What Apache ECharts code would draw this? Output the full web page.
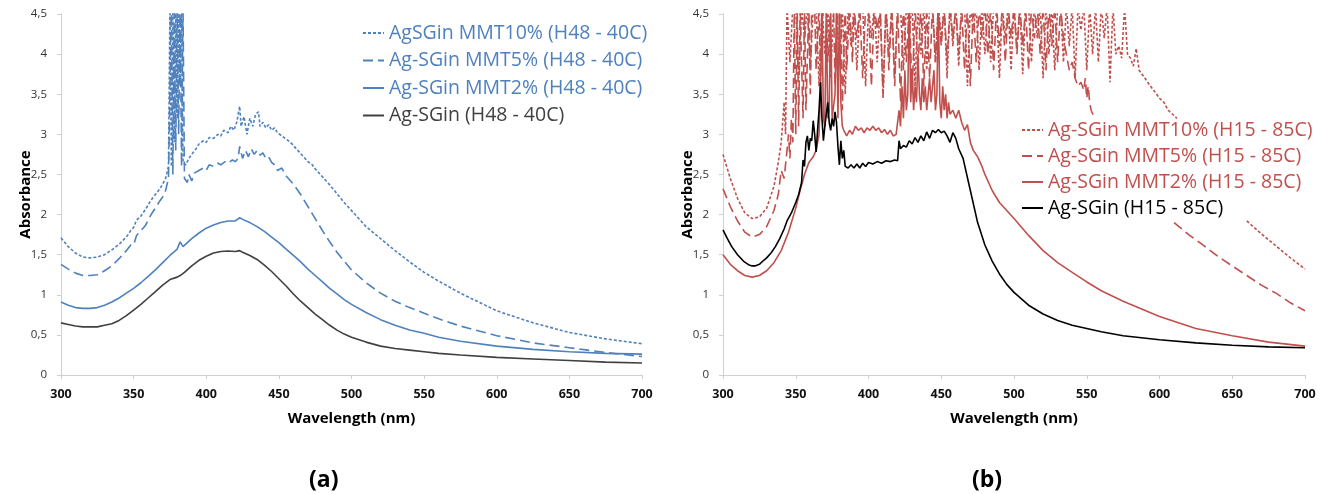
<!DOCTYPE html>
<html>
<head>
<meta charset="utf-8">
<script src="https://cdn.jsdelivr.net/npm/echarts@6/dist/echarts.min.js"></script>
<style>
html,body{margin:0;padding:0;background:#fff;}
#chart{width:1329px;height:494px;}
</style>
</head>
<body>
<div id="chart"></div>
<script>
// ---------- DATA ([wavelength nm, absorbance]; null = no data, values > 4.5 are off-scale) ----------
const xTicks = [300, 350, 400, 450, 500, 550, 600, 650, 700];
const yTicks = [0, 0.5, 1, 1.5, 2, 2.5, 3, 3.5, 4, 4.5];

const namesA = ['AgSGin MMT10% (H48 - 40C)', 'Ag-SGin MMT5% (H48 - 40C)', 'Ag-SGin MMT2% (H48 - 40C)', 'Ag-SGin (H48 - 40C)'];
const namesB = ['Ag-SGin MMT10% (H15 - 85C)', 'Ag-SGin MMT5% (H15 - 85C)', 'Ag-SGin MMT2% (H15 - 85C)', 'Ag-SGin (H15 - 85C)'];

// Panel (a)
const a_mmt10 = [[300,1.71],[305,1.60],[310,1.52],[315,1.47],[320,1.46],[325,1.47],[330,1.50],[335,1.56],[340,1.63],[345,1.72],[348,1.80],[350,1.84],[352,1.93],[355,1.98],[358,2.06],[360,2.12],[362,2.18],[365,2.25],[368,2.32],[370,2.38],[372,2.45],[374,2.60],[375,4.6],[376,2.6],[377,4.6],[378,2.9],[379,4.6],[380,3.2],[381,4.6],[382,3.6],[383,4.6],[384,2.65],[386,2.62],[388,2.70],[390,2.75],[393,2.82],[395,2.88],[398,2.92],[400,2.90],[402,2.96],[405,2.95],[408,3.00],[410,2.98],[412,3.05],[415,3.02],[417,3.10],[419,3.05],[421,3.15],[423,3.35],[424,3.10],[426,3.22],[428,3.00],[430,3.20],[432,3.10],[434,3.25],[436,3.28],[437,3.10],[439,3.15],[441,3.08],[443,3.12],[445,3.05],[447,3.08],[449,3.02],[452,2.98],[455,2.94],[458,2.90],[460,2.86],[463,2.80],[465,2.76],[468,2.70],[470,2.66],[473,2.62],[475,2.57],[480,2.47],[485,2.37],[490,2.26],[495,2.15],[500,2.05],[510,1.85],[520,1.70],[530,1.55],[540,1.41],[550,1.28],[560,1.17],[575,1.02],[600,0.80],[625,0.65],[650,0.53],[675,0.45],[700,0.39]];
const a_mmt5 = [[300,1.38],[305,1.32],[310,1.27],[315,1.24],[320,1.24],[325,1.25],[330,1.30],[335,1.36],[340,1.45],[345,1.55],[348,1.62],[350,1.62],[352,1.74],[355,1.80],[358,1.86],[360,1.93],[362,2.00],[365,2.08],[368,2.17],[370,2.22],[372,2.30],[374,2.45],[376,4.6],[377,2.5],[378,4.6],[379,2.8],[380,4.6],[381,3.0],[382,4.6],[383,2.6],[384,4.6],[385,2.45],[387,2.40],[388,2.50],[390,2.42],[392,2.52],[395,2.55],[398,2.58],[400,2.55],[402,2.62],[405,2.60],[408,2.64],[410,2.62],[413,2.66],[415,2.64],[418,2.68],[420,2.66],[422,2.70],[423,2.85],[425,2.70],[427,2.80],[429,2.72],[431,2.82],[433,2.75],[435,2.80],[437,2.74],[439,2.77],[441,2.70],[443,2.72],[445,2.65],[447,2.62],[449,2.55],[452,2.58],[455,2.48],[460,2.38],[465,2.25],[470,2.10],[475,1.95],[480,1.80],[485,1.66],[490,1.53],[495,1.42],[500,1.31],[510,1.15],[520,1.02],[530,0.92],[540,0.84],[550,0.77],[560,0.70],[575,0.61],[600,0.49],[625,0.40],[650,0.34],[675,0.28],[700,0.23]];
const a_mmt2 = [[300,0.91],[305,0.87],[310,0.84],[315,0.83],[320,0.83],[325,0.84],[330,0.87],[335,0.91],[340,0.96],[345,1.02],[350,1.08],[355,1.15],[360,1.23],[365,1.31],[370,1.40],[375,1.49],[380,1.57],[382,1.66],[384,1.60],[385,1.62],[390,1.70],[395,1.77],[400,1.83],[405,1.87],[410,1.90],[415,1.92],[420,1.92],[423,1.96],[425,1.94],[430,1.90],[435,1.85],[440,1.79],[445,1.72],[450,1.65],[455,1.57],[460,1.49],[465,1.41],[470,1.32],[475,1.24],[480,1.16],[485,1.08],[490,1.01],[495,0.94],[500,0.88],[510,0.78],[520,0.69],[530,0.62],[540,0.56],[550,0.52],[560,0.47],[575,0.42],[600,0.36],[625,0.32],[650,0.29],[675,0.27],[700,0.26]];
const a_base = [[300,0.65],[305,0.63],[310,0.61],[315,0.60],[320,0.60],[325,0.60],[330,0.62],[335,0.64],[340,0.68],[345,0.74],[350,0.81],[355,0.88],[360,0.96],[365,1.04],[370,1.12],[375,1.19],[380,1.22],[382,1.24],[385,1.28],[390,1.36],[395,1.43],[400,1.48],[405,1.52],[410,1.54],[415,1.545],[420,1.54],[423,1.55],[425,1.53],[430,1.49],[435,1.44],[440,1.37],[445,1.29],[450,1.20],[455,1.11],[460,1.01],[465,0.92],[470,0.84],[475,0.76],[480,0.69],[485,0.62],[490,0.56],[495,0.51],[500,0.47],[510,0.41],[520,0.36],[530,0.33],[540,0.31],[550,0.29],[560,0.27],[575,0.25],[600,0.22],[625,0.20],[650,0.18],[675,0.16],[700,0.15]];

// Panel (b)
const b_mmt10 = [[300,2.75],[305,2.45],[310,2.20],[315,2.02],[320,1.95],[325,1.97],[330,2.08],[335,2.35],[338,2.65],[340,2.90],[342,3.40],[343,3.00],[344,4.6],[346,3.9],[348,4.6],[350,4.6],[352,3.7],[354,4.6],[356,4.2],[358,4.6],[360,3.8],[362,4.6],[364,4.6],[366,3.6],[368,4.6],[370,4.0],[372,4.6],[374,3.7],[376,4.6],[378,4.6],[380,3.9],[382,4.6],[384,3.5],[386,4.6],[388,4.1],[390,4.6],[392,3.8],[394,4.6],[396,4.6],[398,3.6],[400,4.6],[402,4.2],[404,4.6],[406,3.9],[408,4.6],[410,3.45],[412,4.6],[414,4.0],[416,4.6],[418,3.7],[420,4.6],[422,4.6],[424,3.8],[426,4.6],[428,4.3],[430,4.6],[432,3.6],[434,4.6],[436,4.0],[438,4.6],[440,3.8],[442,4.6],[444,4.6],[446,3.9],[448,4.6],[450,4.2],[452,4.6],[454,3.7],[456,4.6],[458,4.1],[460,4.6],[462,3.85],[464,4.6],[466,4.6],[468,3.6],[470,4.6],[472,4.3],[474,4.6],[476,3.8],[478,4.6],[480,4.0],[482,4.6],[484,3.9],[486,4.6],[488,4.6],[490,3.7],[492,4.6],[494,4.2],[496,4.6],[498,3.8],[500,4.6],[502,4.1],[504,4.6],[506,3.75],[508,4.6],[510,4.6],[512,3.9],[514,4.6],[516,4.2],[518,4.6],[520,3.7],[522,4.6],[524,4.0],[526,4.6],[528,3.8],[530,4.6],[532,4.6],[534,3.9],[536,4.6],[538,4.1],[540,4.6],[542,3.7],[544,4.6],[546,4.3],[548,4.6],[550,3.8],[552,4.6],[554,4.0],[556,4.6],[558,3.9],[560,4.6],[562,4.2],[564,4.6],[566,3.65],[568,4.6],[570,4.0],[572,4.1],[574,3.95],[576,4.6],[578,4.0],[580,3.95],[582,3.85],[584,4.07],[586,3.8],[588,3.75],[590,3.70],[593,3.62],[596,3.55],[600,3.45],[603,3.40],[606,3.30],[609,3.25],[612,3.20],[613,null],[660,1.92],[670,1.76],[680,1.61],[690,1.46],[700,1.32]];
const b_mmt5 = [[300,2.32],[305,2.10],[310,1.92],[315,1.78],[320,1.72],[325,1.75],[330,1.85],[335,2.05],[338,2.25],[340,2.55],[342,2.45],[344,2.80],[345,3.00],[346,2.70],[347,3.20],[348,2.90],[349,4.6],[350,3.0],[351,4.6],[352,3.1],[353,4.6],[355,3.2],[356,4.6],[357,3.3],[359,4.6],[360,3.5],[361,4.6],[363,4.6],[364,3.8],[366,4.6],[367,3.7],[369,4.6],[371,4.6],[372,3.9],[374,4.6],[376,4.6],[377,3.6],[379,4.6],[381,4.6],[382,3.3],[384,4.6],[385,3.8],[387,4.6],[389,3.9],[390,4.6],[392,4.2],[394,4.6],[396,3.7],[398,4.6],[400,4.6],[402,3.6],[404,4.6],[406,4.3],[408,4.6],[410,3.5],[412,4.6],[414,3.8],[416,4.6],[418,3.6],[420,4.6],[422,3.4],[424,4.6],[426,3.9],[428,4.6],[430,3.5],[432,4.6],[434,3.8],[436,4.6],[438,3.6],[440,4.6],[442,3.7],[444,4.6],[446,3.9],[448,4.6],[450,4.1],[452,4.6],[454,3.9],[456,4.6],[458,4.2],[460,4.6],[462,4.0],[464,4.6],[466,3.8],[468,4.6],[470,3.6],[472,4.6],[474,3.9],[476,4.6],[478,4.2],[480,4.6],[482,4.0],[484,4.6],[486,3.8],[488,4.6],[490,4.1],[492,4.6],[494,3.9],[496,4.6],[498,4.2],[500,4.6],[502,4.0],[504,4.6],[506,4.1],[508,4.6],[510,3.8],[512,4.6],[514,4.2],[516,4.6],[518,4.0],[520,4.6],[522,3.8],[524,4.6],[526,4.1],[528,4.6],[530,3.9],[532,4.6],[534,4.2],[536,4.0],[538,3.8],[540,3.9],[542,3.7],[544,3.6],[546,3.65],[548,3.55],[549,3.70],[550,3.45],[551,3.60],[552,3.40],[553,3.30],[555,3.22],[556,null],[610,1.90],[620,1.75],[630,1.62],[640,1.48],[650,1.36],[660,1.24],[670,1.12],[680,1.02],[690,0.90],[700,0.80]];
const b_mmt2 = [[300,1.50],[305,1.38],[310,1.30],[315,1.24],[320,1.22],[325,1.24],[330,1.30],[335,1.40],[340,1.55],[345,1.78],[350,2.08],[353,2.30],[356,2.50],[359,2.65],[362,2.72],[364,2.80],[366,3.00],[367,3.50],[368,4.6],[369,3.2],[370,3.1],[371,4.6],[372,3.2],[373,3.3],[374,4.6],[375,3.2],[377,3.5],[378,4.6],[379,3.2],[380,4.6],[381,3.4],[382,3.1],[383,3.05],[385,2.98],[387,3.05],[389,3.00],[391,3.10],[393,3.05],[395,3.08],[397,3.02],[399,3.08],[401,3.05],[403,3.10],[405,3.05],[407,3.08],[409,3.02],[411,3.06],[413,3.00],[415,3.05],[417,2.98],[419,3.00],[420,3.02],[421,3.30],[422,3.10],[423,3.60],[424,3.20],[425,3.80],[426,3.30],[427,3.50],[428,4.6],[429,3.40],[430,3.80],[431,3.30],[432,3.60],[433,3.40],[434,4.00],[435,3.50],[436,3.30],[437,3.70],[438,3.40],[439,3.60],[440,3.30],[441,3.50],[442,3.70],[443,3.40],[444,3.60],[445,3.80],[446,3.30],[447,3.50],[448,4.6],[449,3.40],[450,3.20],[451,3.60],[452,3.30],[453,3.50],[454,3.20],[455,3.40],[456,3.25],[458,3.30],[460,3.20],[462,3.30],[464,3.15],[466,3.05],[468,3.12],[470,2.90],[472,2.80],[475,2.72],[478,2.60],[480,2.50],[485,2.30],[490,2.15],[495,2.05],[500,1.95],[510,1.74],[520,1.55],[530,1.40],[540,1.28],[550,1.16],[560,1.05],[575,0.92],[600,0.73],[625,0.58],[650,0.49],[675,0.41],[700,0.36]];
const b_base = [[300,1.81],[303,1.70],[306,1.60],[310,1.50],[314,1.42],[318,1.37],[320,1.36],[322,1.36],[325,1.38],[328,1.43],[330,1.46],[333,1.52],[336,1.60],[339,1.70],[342,1.82],[344,1.92],[345,1.90],[347,2.02],[350,2.15],[352,2.25],[354,2.40],[355,2.68],[356,2.60],[357,2.90],[358,2.98],[359,2.80],[360,2.95],[361,2.92],[362,3.17],[363,3.00],[364,2.78],[365,3.05],[366,3.30],[367,3.65],[368,3.20],[369,2.92],[370,3.10],[371,3.25],[372,3.40],[373,3.15],[374,3.05],[375,3.20],[376,3.10],[377,3.28],[378,3.15],[379,2.85],[380,2.62],[381,2.92],[382,2.70],[383,2.80],[384,2.60],[386,2.58],[388,2.62],[390,2.58],[392,2.63],[394,2.58],[396,2.64],[398,2.60],[400,2.65],[403,2.63],[406,2.66],[409,2.64],[412,2.67],[415,2.66],[418,2.68],[420,2.67],[421,2.92],[422,2.82],[424,2.86],[426,2.84],[428,2.92],[430,2.88],[432,2.96],[434,2.90],[436,2.98],[438,2.92],[440,3.03],[442,2.95],[444,3.05],[446,3.02],[448,3.06],[450,3.02],[452,3.04],[454,2.98],[456,2.90],[458,3.02],[460,2.95],[462,2.82],[465,2.70],[470,2.30],[475,1.90],[480,1.62],[485,1.42],[490,1.26],[495,1.13],[500,1.03],[510,0.87],[520,0.76],[530,0.68],[540,0.62],[550,0.58],[560,0.54],[575,0.49],[600,0.44],[625,0.40],[650,0.37],[675,0.35],[700,0.34]];

// ---------- CHART ----------
const BLUE = '#4F81BD', RED = '#C0504D', DARK = '#404040', BLACK = '#000000';
const FONT = '"Open Sans", "DejaVu Sans", sans-serif';
const fix = arr => arr.map(p => [p[0], p[1] === null ? '-' : p[1]]);

const grids = [
  {left: 61, top: 14, width: 581, height: 361},
  {left: 723, top: 14, width: 582, height: 361}
];

function xAx(i) {
  return {
    type: 'value', gridIndex: i, min: xTicks[0], max: xTicks[xTicks.length - 1], interval: 50,
    name: 'Wavelength (nm)', nameLocation: 'middle', nameGap: 36, nameMoveOverlap: false,
    nameTextStyle: {fontFamily: FONT, fontWeight: 'bold', fontSize: 15, color: '#000'},
    axisLine: {show: true, lineStyle: {color: '#D0D0D0', width: 1}},
    axisTick: {show: true, length: 4, lineStyle: {color: '#D0D0D0'}},
    axisLabel: {fontFamily: FONT, fontWeight: 'bold', fontSize: 12.5, color: '#111', margin: 13},
    splitLine: {show: false}
  };
}
function yAx(i) {
  return {
    type: 'value', gridIndex: i, min: yTicks[0], max: yTicks[yTicks.length - 1], interval: 0.5,
    name: 'Absorbance', nameLocation: 'middle', nameGap: 28, nameMoveOverlap: false,
    nameTextStyle: {fontFamily: FONT, fontWeight: 'bold', fontSize: 15, color: '#000'},
    axisLine: {show: true, lineStyle: {color: '#D0D0D0', width: 1}},
    axisTick: {show: true, length: 4, lineStyle: {color: '#D0D0D0'}},
    axisLabel: {fontFamily: FONT, fontSize: 11.5, color: '#333', margin: 14,
      formatter: v => String(v).replace('.', ',')},
    splitLine: {show: false}
  };
}
function ser(name, data, gi, color, type) {
  return {
    name: name, type: 'line', xAxisIndex: gi, yAxisIndex: gi, data: fix(data),
    symbol: 'none', showSymbol: false, clip: true, connectNulls: false,
    lineStyle: {color: color, width: 1.6, type: type},
    itemStyle: {color: color}, animation: false
  };
}

const series = [
  ser(namesA[0], a_mmt10, 0, BLUE, [3, 2]),
  ser(namesA[1], a_mmt5, 0, BLUE, [10, 5]),
  ser(namesA[2], a_mmt2, 0, BLUE, 'solid'),
  ser(namesA[3], a_base, 0, DARK, 'solid'),
  ser(namesB[0], b_mmt10, 1, RED, [3, 2]),
  ser(namesB[1], b_mmt5, 1, RED, [10, 5]),
  ser(namesB[2], b_mmt2, 1, RED, 'solid'),
  ser(namesB[3], b_base, 1, BLACK, 'solid')
];

const colA = [BLUE, BLUE, BLUE, DARK], colB = [RED, RED, RED, BLACK];
function leg(names, cols, left, top, gap) {
  return {
    orient: 'vertical', left: left, top: top, itemGap: gap, itemWidth: 21, itemHeight: 12,
    align: 'left', selectedMode: false, padding: 0,
    itemStyle: {opacity: 0},
    textStyle: {fontFamily: FONT, fontSize: 19.5, lineHeight: 20},
    data: names.map((n, i) => ({name: n, textStyle: {color: cols[i]}}))
  };
}

const chart = echarts.init(document.getElementById('chart'), null, {renderer: 'canvas'});
chart.setOption({
  backgroundColor: '#fff',
  animation: false,
  grid: grids,
  xAxis: [xAx(0), xAx(1)],
  yAxis: [yAx(0), yAx(1)],
  legend: [leg(namesA, colA, 362, 23, 7.5), leg(namesB, colB, 1021, 120, 6)],
  series: series,
  graphic: [
    {type: 'text', left: 309, top: 469, style: {text: '(a)', font: 'bold 23px ' + FONT, fill: '#000'}},
    {type: 'text', left: 972, top: 469, style: {text: '(b)', font: 'bold 23px ' + FONT, fill: '#000'}}
  ]
});
</script>
</body>
</html>
